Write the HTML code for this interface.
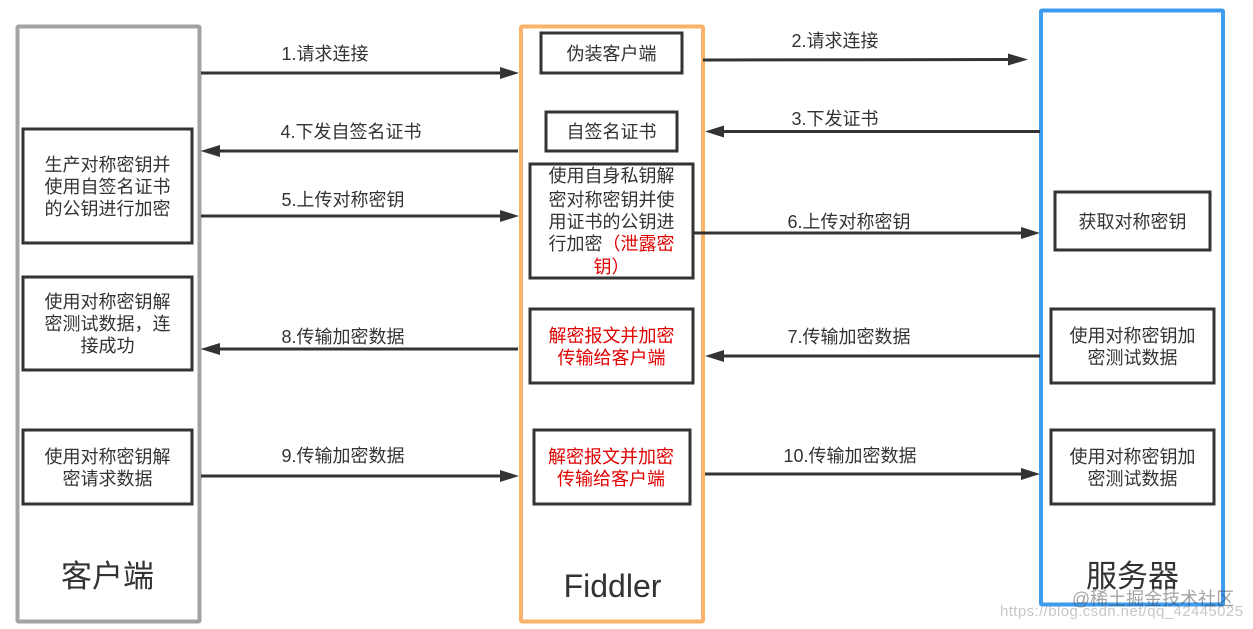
<!DOCTYPE html>
<html><head><meta charset="utf-8"><style>
html,body{margin:0;padding:0;background:#fff}
svg{display:block}
text{font-family:"Liberation Sans","Noto Sans CJK SC",sans-serif;font-size:18px;fill:#333;text-anchor:middle}
.b{fill:none;stroke:#333;stroke-width:3}
.l{stroke:#333;stroke-width:3;fill:none}
.a{fill:#333}
.r{fill:#e00000}
</style></head><body>
<svg width="1253" height="629" viewBox="0 0 1253 629" xmlns="http://www.w3.org/2000/svg">
<rect x="17.5" y="26.5" width="182" height="595" rx="1" fill="none" stroke="#a3a3a3" stroke-width="4"/>
<rect x="521" y="26.5" width="182" height="595" rx="1" fill="none" stroke="#f9b46b" stroke-width="4"/>
<rect x="1041" y="10.5" width="182" height="594" rx="1" fill="none" stroke="#3d9bf0" stroke-width="4"/>

<rect class="b" x="23" y="129" width="169" height="114"/>
<rect class="b" x="23" y="277" width="169" height="93"/>
<rect class="b" x="23" y="430" width="169" height="74"/>
<rect class="b" x="541" y="33" width="141" height="40"/>
<rect class="b" x="546" y="112" width="131" height="39"/>
<rect class="b" x="530" y="164" width="163" height="114"/>
<rect class="b" x="530" y="309" width="163" height="74"/>
<rect class="b" x="534" y="430" width="156" height="74"/>
<rect class="b" x="1055" y="192" width="155" height="58"/>
<rect class="b" x="1051" y="309" width="163" height="74"/>
<rect class="b" x="1051" y="430" width="163" height="74"/>

<path class="l" d="M201 73H502"/><path class="a" d="M519 73L500 67V79Z"/>
<path class="l" d="M518 151H218"/><path class="a" d="M200.500 151L220 145V157Z"/>
<path class="l" d="M201 216H502"/><path class="a" d="M519 216L500 210V222Z"/>
<path class="l" d="M518 349H218"/><path class="a" d="M200.500 349L220 343V355Z"/>
<path class="l" d="M201 476H502"/><path class="a" d="M519 476L500 470V482Z"/>
<path class="l" d="M703 60L1010 59.500"/><path class="a" d="M1028 59.500L1008 53.500V65.500Z"/>
<path class="l" d="M1040 131.500H722"/><path class="a" d="M705 131.500L724 125.500V137.500Z"/>
<path class="l" d="M694 233H1023"/><path class="a" d="M1040 233L1021 227V239Z"/>
<path class="l" d="M1040 356H722"/><path class="a" d="M705 356L724 350V362Z"/>
<path class="l" d="M705 474H1023"/><path class="a" d="M1040 474L1021 468V480Z"/>

<text x="325" y="60">1.请求连接</text>
<text x="351" y="138">4.下发自签名证书</text>
<text x="343" y="206">5.上传对称密钥</text>
<text x="343" y="343">8.传输加密数据</text>
<text x="343" y="462">9.传输加密数据</text>
<text x="835" y="47">2.请求连接</text>
<text x="835" y="125">3.下发证书</text>
<text x="849" y="228">6.上传对称密钥</text>
<text x="849" y="343">7.传输加密数据</text>
<text x="850" y="462">10.传输加密数据</text>

<text x="107.500" y="171">生产对称密钥并</text>
<text x="107.500" y="193">使用自签名证书</text>
<text x="107.500" y="215">的公钥进行加密</text>
<text x="107.500" y="308">使用对称密钥解</text>
<text x="107.500" y="330">密测试数据，连</text>
<text x="107.500" y="352">接成功</text>
<text x="107.500" y="463">使用对称密钥解</text>
<text x="107.500" y="485">密请求数据</text>

<text x="611.500" y="60">伪装客户端</text>
<text x="611.500" y="138">自签名证书</text>
<text x="611.500" y="182">使用自身私钥解</text>
<text x="611.500" y="206">密对称密钥并使</text>
<text x="611.500" y="228">用证书的公钥进</text>
<text x="611.500" y="250">行加密<tspan class="r">（泄露密</tspan></text>
<text x="611.500" y="273" class="r">钥）</text>
<text x="611.500" y="342" class="r">解密报文并加密</text>
<text x="611.500" y="364" class="r">传输给客户端</text>
<text x="611" y="463" class="r">解密报文并加密</text>
<text x="611" y="485" class="r">传输给客户端</text>

<text x="1132.500" y="228">获取对称密钥</text>
<text x="1132.500" y="342">使用对称密钥加</text>
<text x="1132.500" y="364">密测试数据</text>
<text x="1132.500" y="463">使用对称密钥加</text>
<text x="1132.500" y="485">密测试数据</text>

<text x="107.500" y="587" style="font-size:31px">客户端</text>
<text x="612.500" y="597" style="font-size:32px">Fiddler</text>
<text x="1132.500" y="587" style="font-size:31px">服务器</text>

<text x="1153" y="605" style="font-size:18px;fill:#333;fill-opacity:.45">@稀土掘金技术社区</text>
<text x="1121.500" y="616" textLength="243" style="font-size:15px;fill:#999;fill-opacity:.55">https://blog.csdn.net/qq_42445025</text>
</svg>
</body></html>
